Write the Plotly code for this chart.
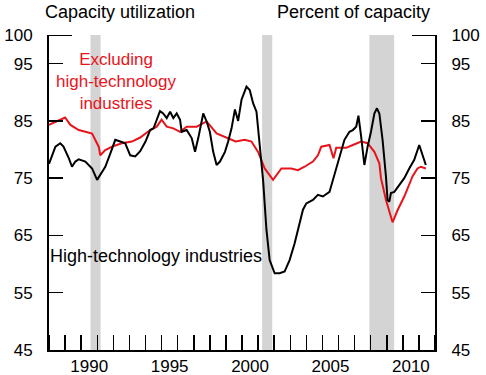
import plotly.graph_objects as go

# ---- data ----
hitech_x = [1988.00, 1988.40, 1988.70, 1988.90, 1989.23, 1989.43, 1989.64, 1989.85, 1990.26, 1990.68,
            1990.99, 1991.19, 1991.50, 1991.81, 1992.12, 1992.43, 1992.74, 1993.05, 1993.36, 1993.67,
            1994.00, 1994.29, 1994.50, 1994.70, 1994.90, 1995.10, 1995.32, 1995.53, 1995.73, 1995.94,
            1996.15, 1996.25, 1996.56, 1996.87, 1997.08, 1997.28, 1997.49, 1997.59, 1997.80, 1998.00,
            1998.21, 1998.42, 1998.63, 1998.94, 1999.14, 1999.35, 1999.56, 1999.76, 1999.97, 2000.28,
            2000.48, 2000.69, 2000.90, 2001.10, 2001.31, 2001.52, 2001.72, 2002.03, 2002.34, 2002.65,
            2002.96, 2003.27, 2003.58, 2003.79, 2004.00, 2004.41, 2004.72, 2005.03, 2005.44, 2005.65,
            2005.96, 2006.17, 2006.37, 2006.68, 2006.89, 2007.10, 2007.24, 2007.41, 2007.61, 2007.81,
            2008.02, 2008.23, 2008.39, 2008.54, 2008.74, 2008.95, 2009.05, 2009.16, 2009.26, 2009.47,
            2009.78, 2010.09, 2010.40, 2010.71, 2011.02, 2011.22, 2011.43]
hitech_y = [77.5, 80.5, 81.1, 80.5, 78.5, 77.0, 77.9, 78.3, 77.9, 76.7,
            74.7, 75.6, 77.0, 79.3, 81.7, 81.4, 81.1, 79.0, 78.8, 79.7,
            81.4, 83.4, 83.7, 85.2, 86.7, 86.3, 85.5, 86.6, 85.5, 86.3,
            85.2, 83.1, 83.4, 82.0, 79.6, 82.0, 84.6, 86.3, 84.9, 83.1,
            79.6, 77.3, 77.9, 79.6, 81.4, 83.7, 87.0, 85.0, 88.7, 91.0,
            90.4, 88.1, 86.6, 80.5, 74.7, 66.0, 60.7, 58.4, 58.4, 58.7,
            60.7, 63.6, 67.1, 69.5, 70.6, 71.2, 72.1, 71.8, 72.6, 74.7,
            77.6, 79.9, 81.7, 83.1, 83.4, 84.0, 85.9, 82.2, 77.3, 80.5,
            83.1, 86.3, 87.2, 86.3, 81.7, 75.3, 71.2, 70.9, 72.4, 72.6,
            73.8, 75.0, 76.7, 78.2, 80.8, 79.0, 77.3]

excl_x = [1988.00, 1988.50, 1989.00, 1989.33, 1989.85, 1990.26, 1990.68, 1991.09, 1991.19, 1991.50,
          1991.92, 1992.53, 1993.15, 1993.67, 1994.29, 1994.70, 1995.00, 1995.32, 1995.73, 1996.15,
          1996.56, 1997.18, 1997.80, 1998.42, 1999.04, 1999.60, 2000.17, 2000.59, 2001.00, 2001.41,
          2001.93, 2002.45, 2003.07, 2003.48, 2003.89, 2004.41, 2004.72, 2004.93, 2005.44, 2005.69,
          2005.86, 2006.48, 2006.89, 2007.41, 2007.81, 2008.23, 2008.54, 2008.64, 2008.74, 2008.95,
          2009.36, 2009.67, 2010.09, 2010.29, 2010.60, 2010.91, 2011.12, 2011.43]
excl_y = [84.3, 84.9, 85.6, 84.3, 83.4, 83.1, 82.8, 80.5, 79.0, 79.9,
          80.5, 81.1, 81.4, 82.1, 83.4, 84.0, 85.2, 84.0, 83.7, 83.1,
          84.0, 84.0, 84.9, 82.8, 82.0, 81.4, 81.7, 81.4, 79.6, 76.7,
          74.7, 76.7, 76.7, 76.4, 77.0, 77.9, 79.0, 80.5, 80.8, 78.5,
          80.3, 80.3, 80.8, 81.4, 81.1, 79.6, 77.6, 75.0, 73.8, 71.2,
          67.3, 69.4, 71.8, 73.2, 75.3, 76.7, 77.0, 76.7]

recession_start = [1990.58, 2001.25, 2007.92]
recession_end = [1991.21, 2001.88, 2009.46]

y_ticks = [45, 55, 65, 75, 85, 95, 100]
x_label_pos = [1990.5, 1995.5, 2000.5, 2005.5, 2010.5]
x_label_text = ["1990", "1995", "2000", "2005", "2010"]

FONT = "Arial, Liberation Sans, sans-serif"
RED = "#e8141c"

fig = go.Figure()
fig.add_trace(go.Scatter(x=excl_x, y=excl_y, mode="lines",
                         line=dict(color=RED, width=2), hoverinfo="skip", showlegend=False))
fig.add_trace(go.Scatter(x=hitech_x, y=hitech_y, mode="lines",
                         line=dict(color="black", width=2), hoverinfo="skip", showlegend=False))
fig.add_trace(go.Scatter(x=[None], y=[None], yaxis="y2", mode="lines",
                         hoverinfo="skip", showlegend=False))

for s, e in zip(recession_start, recession_end):
    fig.add_shape(type="rect", xref="x", yref="paper", x0=s, x1=e, y0=0, y1=1,
                  fillcolor="#d4d4d4", line=dict(width=0), layer="below")

L, R, T, B = 49, 51, 35, 25
W = 486 - L - R
H = 375 - T - B

# longer tick marks at 100 on both sides
fig.add_shape(type="line", xref="paper", yref="y", x0=0, x1=23 / W, y0=100, y1=100,
              line=dict(color="black", width=2))
fig.add_shape(type="line", xref="paper", yref="y", x0=1 - 23 / W, x1=1, y0=100, y1=100,
              line=dict(color="black", width=2))

axis_common = dict(range=[45, 100], tickvals=y_ticks, ticks="inside", ticklen=14,
                   tickwidth=1.5, tickcolor="black", showline=True, linecolor="black",
                   linewidth=2, showgrid=False, zeroline=False, automargin=False,
                   tickfont=dict(family=FONT, size=17, color="black"),
                   ticklabelstandoff=11)

fig.update_layout(
    template="none",
    width=486, height=375,
    margin=dict(l=L, r=R, t=T, b=B, pad=0),
    paper_bgcolor="white", plot_bgcolor="white",
    font=dict(family=FONT, color="black"),
    xaxis=dict(range=[1988, 2012], tickvals=x_label_pos, ticktext=x_label_text,
               ticks="", showline=True, linecolor="black", linewidth=2,
               showgrid=False, zeroline=False, automargin=False,
               tickfont=dict(family=FONT, size=17, color="black"),
               ticklabelstandoff=0,
               minor=dict(tick0=1988, dtick=1, ticks="inside", ticklen=15,
                          tickwidth=1.5, tickcolor="black", showgrid=False)),
    yaxis=dict(side="left", **axis_common),
    yaxis2=dict(side="right", overlaying="y", **axis_common),
    showlegend=False,
    hovermode=False,
)

def ann(text, x, y, color="black", xanchor="center", size=18):
    fig.add_annotation(text=text, xref="paper", yref="paper", x=x, y=y,
                       xanchor=xanchor, yanchor="middle", showarrow=False,
                       font=dict(family=FONT, size=size, color=color))

def px(xp):
    return (xp - L) / W
def py(yp):
    return (375 - B - yp) / H

ann("Capacity utilization", px(120), py(12))
ann("Percent of capacity", px(353), py(12))
ann("Excluding<br>high-technology<br>industries", px(116), py(81), color=RED, size=17)
ann("High-technology industries", px(48), py(256), xanchor="left")

fig.write_html("out.html",
               config={"displayModeBar": False, "staticPlot": True},
               post_script="document.body.style.margin='0';document.body.style.overflow='hidden';")
